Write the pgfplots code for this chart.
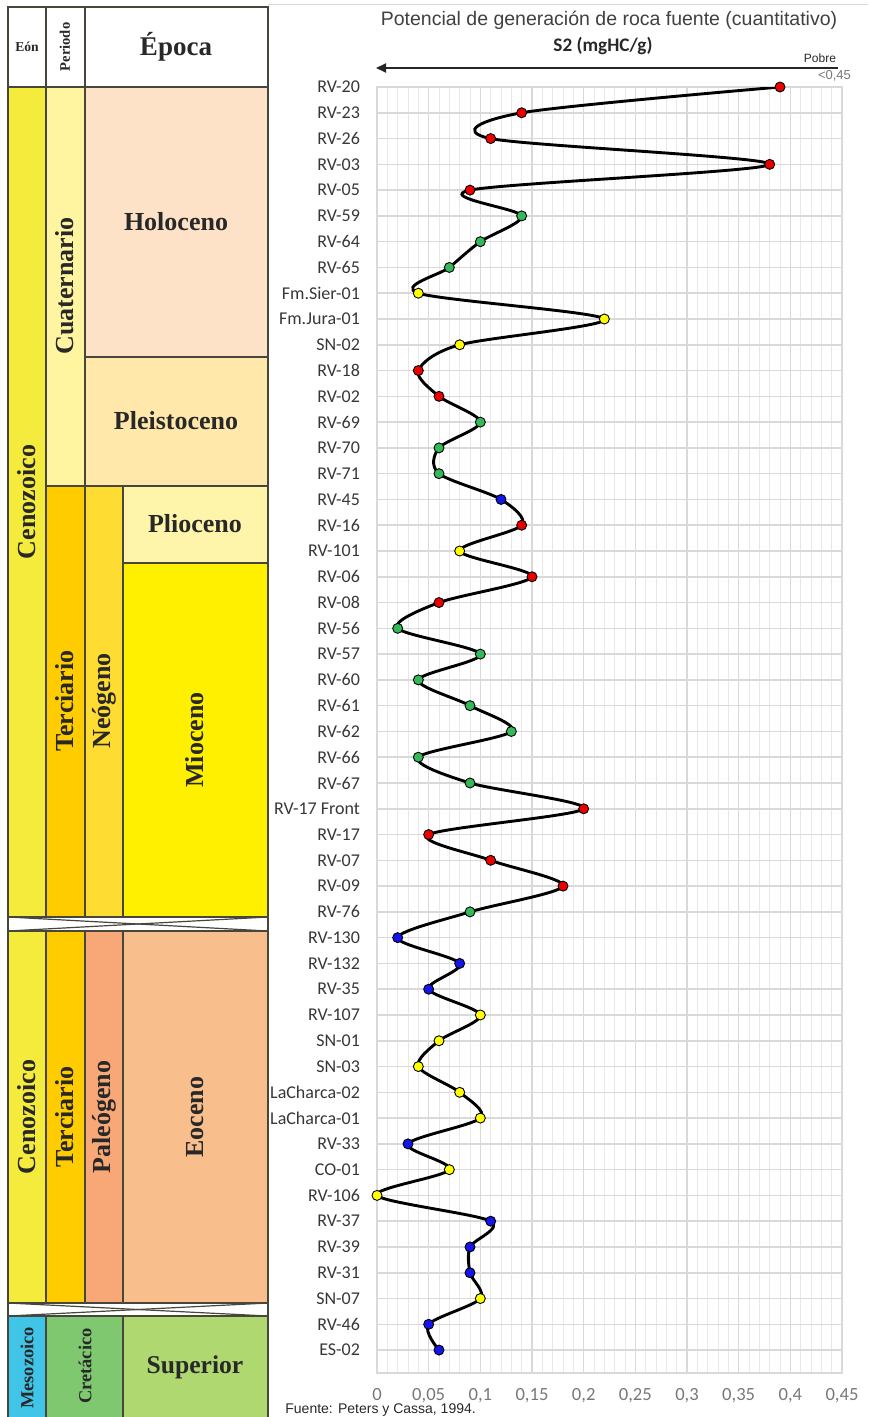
\documentclass[border=0pt]{standalone}
\usepackage{pgfplots}
\pgfplotsset{compat=1.18}
\usepackage{pgfplotstable}
\usepackage{fontspec}
\setmainfont{Liberation Sans}
\newfontfamily\serifb{Liberation Serif}
\newfontfamily\calibri{Carlito}
\usetikzlibrary{arrows.meta}

\definecolor{cCeno}{RGB}{245,235,60}
\definecolor{cCuat}{RGB}{255,245,160}
\definecolor{cHolo}{RGB}{253,226,200}
\definecolor{cPleis}{RGB}{255,232,170}
\definecolor{cTerc}{RGB}{255,204,0}
\definecolor{cNeo}{RGB}{255,220,50}
\definecolor{cPlio}{RGB}{255,245,170}
\definecolor{cMio}{RGB}{255,240,0}
\definecolor{cPaleo}{RGB}{248,168,118}
\definecolor{cEoc}{RGB}{248,190,140}
\definecolor{cMeso}{RGB}{64,196,232}
\definecolor{cCret}{RGB}{128,200,112}
\definecolor{cSup}{RGB}{176,216,112}
\definecolor{lineC}{RGB}{70,70,60}
\definecolor{txtC}{RGB}{40,40,40}
\definecolor{gridC}{RGB}{217,217,217}
\definecolor{gridMinor}{RGB}{232,232,232}
\definecolor{tickgray}{RGB}{120,120,120}
\definecolor{labC}{RGB}{55,55,55}
\definecolor{titleC}{RGB}{64,64,64}
\definecolor{mred}{RGB}{235,0,0}
\definecolor{mgreen}{RGB}{50,185,90}
\definecolor{myel}{RGB}{255,255,0}
\definecolor{mblue}{RGB}{20,20,235}

\pgfplotstableread{
idx val c
0 0.39 r
1 0.14 r
2 0.11 r
3 0.38 r
4 0.09 r
5 0.14 g
6 0.10 g
7 0.07 g
8 0.04 yl
9 0.22 yl
10 0.08 yl
11 0.04 r
12 0.06 r
13 0.10 g
14 0.06 g
15 0.06 g
16 0.12 b
17 0.14 r
18 0.08 yl
19 0.15 r
20 0.06 r
21 0.02 g
22 0.10 g
23 0.04 g
24 0.09 g
25 0.13 g
26 0.04 g
27 0.09 g
28 0.20 r
29 0.05 r
30 0.11 r
31 0.18 r
32 0.09 g
33 0.02 b
34 0.08 b
35 0.05 b
36 0.10 yl
37 0.06 yl
38 0.04 yl
39 0.08 yl
40 0.10 yl
41 0.03 b
42 0.07 yl
43 0.00 yl
44 0.11 b
45 0.09 b
46 0.09 b
47 0.10 yl
48 0.05 b
49 0.06 b
}\datatable

\begin{document}
\begin{tikzpicture}
\begin{scope}[x=0.5pt,y=-0.5pt]
\useasboundingbox (0,0) rectangle (868,1417);
\draw[gridC, line width=0.5pt] (268,5) -- (868,5);
% header
\begin{scope}[draw=lineC, line width=0.6pt]
\draw[fill=white] (8,7) rectangle (46,87);
\draw[fill=white] (46,7) rectangle (85,87);
\draw[fill=white] (85,7) rectangle (268,87);
% upper section
\draw[fill=cCeno] (8,87) rectangle (46,917);
\draw[fill=cCuat] (46,87) rectangle (85,486);
\draw[fill=cHolo] (85,87) rectangle (268,357);
\draw[fill=cPleis] (85,357) rectangle (268,486);
\draw[fill=cTerc] (46,486) rectangle (85,917);
\draw[fill=cNeo] (85,486) rectangle (123,917);
\draw[fill=cPlio] (123,486) rectangle (268,563);
\draw[fill=cMio] (123,563) rectangle (268,917);
% lower section
\draw[fill=cCeno] (8,931) rectangle (46,1303);
\draw[fill=cTerc] (46,931) rectangle (85,1303);
\draw[fill=cPaleo] (85,931) rectangle (123,1303);
\draw[fill=cEoc] (123,931) rectangle (268,1303);
% mesozoic
\draw[fill=cMeso] (8,1316) rectangle (46,1418);
\draw[fill=cCret] (46,1316) rectangle (123,1418);
\draw[fill=cSup] (123,1316) rectangle (268,1418);
% breaks
\draw[fill=white] (8,917) rectangle (268,931);
\draw (8,917) -- (268,931);
\draw (8,931) -- (268,917);
\draw[fill=white] (8,1303) rectangle (268,1316);
\draw (8,1303) -- (268,1316);
\draw (8,1316) -- (268,1303);
\end{scope}
\begin{scope}[every node/.style={text=txtC, inner sep=0pt}]
\node[font=\serifb\bfseries\fontsize{6.8}{8}\selectfont] at (27,47) {Eón};
\node[font=\serifb\bfseries\fontsize{7.3}{8}\selectfont, rotate=90] at (65,47) {Periodo};
\node[font=\serifb\bfseries\fontsize{13.5}{15}\selectfont] at (176,47) {Época};
\node[font=\serifb\bfseries\fontsize{13}{15}\selectfont, rotate=90] at (27,502) {Cenozoico};
\node[font=\serifb\bfseries\fontsize{13}{15}\selectfont, rotate=90] at (65,286) {Cuaternario};
\node[font=\serifb\bfseries\fontsize{13}{15}\selectfont] at (176,222) {Holoceno};
\node[font=\serifb\bfseries\fontsize{13}{15}\selectfont] at (176,421) {Pleistoceno};
\node[font=\serifb\bfseries\fontsize{13}{15}\selectfont, rotate=90] at (65,701) {Terciario};
\node[font=\serifb\bfseries\fontsize{13}{15}\selectfont, rotate=90] at (104,701) {Neógeno};
\node[font=\serifb\bfseries\fontsize{13}{15}\selectfont] at (195,524) {Plioceno};
\node[font=\serifb\bfseries\fontsize{13}{15}\selectfont, rotate=90] at (195,740) {Mioceno};
\node[font=\serifb\bfseries\fontsize{13}{15}\selectfont, rotate=90] at (27,1117) {Cenozoico};
\node[font=\serifb\bfseries\fontsize{13}{15}\selectfont, rotate=90] at (65,1117) {Terciario};
\node[font=\serifb\bfseries\fontsize{13}{15}\selectfont, rotate=90] at (104,1117) {Paleógeno};
\node[font=\serifb\bfseries\fontsize{13}{15}\selectfont, rotate=90] at (195,1117) {Eoceno};
\node[font=\serifb\bfseries\fontsize{9.2}{11}\selectfont, rotate=90] at (27,1368) {Mesozoico};
\node[font=\serifb\bfseries\fontsize{9.2}{11}\selectfont, rotate=90] at (85,1366) {Cretácico};
\node[font=\serifb\bfseries\fontsize{12.8}{15}\selectfont] at (195,1367) {Superior};
\end{scope}
% chart annotations
\node[font=\fontsize{9.75}{11}\selectfont, text=titleC] at (609,20) {Potencial de generación de roca fuente (cuantitativo)};
\node[font=\calibri\bfseries\fontsize{9.6}{11}\selectfont, text=txtC] at (603,46) {S2 (mgHC/g)};
\draw[-{Triangle[length=5pt,width=4.5pt]}, line width=0.9pt, black!85] (838,68) -- (376,68);
\node[font=\fontsize{6}{7}\selectfont, anchor=east, text=txtC] at (843,58) {Pobre};
\node[font=\fontsize{6.5}{7}\selectfont, anchor=east, text=tickgray] at (858,76) {<0,45};
\node[font=\fontsize{7}{8}\selectfont, anchor=west, text=txtC, inner sep=0pt] at (285,1410) {Fuente: Peters y Cassa, 1994.};
\end{scope}

\begin{axis}[
  at={(188.5pt,-43.5pt)}, anchor=north west,
  scale only axis, width=232.5pt, height=643pt,
  xmin=0, xmax=0.45, ymin=0, ymax=49.89, y dir=reverse,
  xtick={0,0.05,0.1,0.15,0.2,0.25,0.3,0.35,0.4,0.45},
  minor x tick num=4,
  scaled x ticks=false,
  ytick={0,...,49},
  yticklabels={RV-20,RV-23,RV-26,RV-03,RV-05,RV-59,RV-64,RV-65,Fm.Sier-01,Fm.Jura-01,SN-02,RV-18,RV-02,RV-69,RV-70,RV-71,RV-45,RV-16,RV-101,RV-06,RV-08,RV-56,RV-57,RV-60,RV-61,RV-62,RV-66,RV-67,RV-17 Front,RV-17,RV-07,RV-09,RV-76,RV-130,RV-132,RV-35,RV-107,SN-01,SN-03,LaCharca-02,LaCharca-01,RV-33,CO-01,RV-106,RV-37,RV-39,RV-31,SN-07,RV-46,ES-02},
  xmajorgrids, xminorgrids, ymajorgrids,
  major grid style={draw=gridC, line width=0.75pt},
  minor grid style={draw=gridMinor, line width=0.5pt},
  axis line style={draw=gridC, line width=0.75pt},
  major tick length=0pt, minor tick length=0pt,
  tick style={draw=none},
  xticklabel style={font=\calibri\fontsize{9.3}{10}\selectfont, text=tickgray, yshift=-4pt,
     /pgf/number format/.cd, use comma, fixed, precision=2, assume math mode=true},
  yticklabel style={font=\calibri\fontsize{9}{10}\selectfont, text=labC, xshift=-5pt},
]
\addplot[black, line width=1.45pt, smooth, no marks] table[x=val,y=idx]{\datatable};
\addplot[scatter, only marks, scatter src=explicit symbolic, mark size=2.5pt,
  scatter/classes={
    r={mark=*, fill=mred, draw=black, line width=0.45pt},
    g={mark=*, fill=mgreen, draw=black, line width=0.45pt},
    yl={mark=*, fill=myel, draw=black, line width=0.45pt},
    b={mark=*, fill=mblue, draw=black, line width=0.45pt}}
  ] table[x=val,y=idx,meta=c]{\datatable};
\end{axis}
\end{tikzpicture}
\end{document}
